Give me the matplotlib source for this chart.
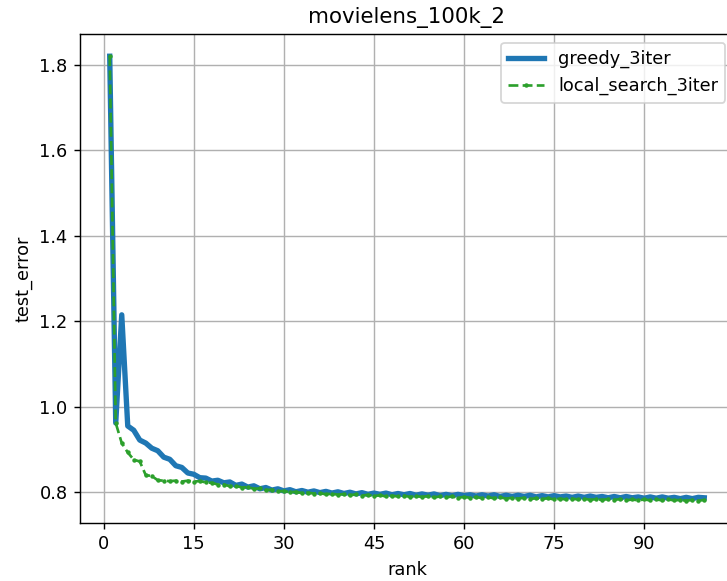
import numpy as np
import matplotlib
matplotlib.use("Agg")
import matplotlib.pyplot as plt

ranks = list(range(1, 101))

greedy_3iter = [
    1.820, 0.962, 1.215, 0.955, 0.945, 0.922, 0.915, 0.903, 0.897, 0.882,
    0.877, 0.862, 0.858, 0.845, 0.842, 0.834, 0.833, 0.826, 0.828, 0.822,
    0.824, 0.816, 0.819, 0.812, 0.815, 0.808, 0.811, 0.805, 0.808, 0.803,
    0.806, 0.801, 0.804, 0.800, 0.803, 0.799, 0.802, 0.798, 0.801, 0.797,
    0.800, 0.796, 0.799, 0.795, 0.798, 0.795, 0.798, 0.794, 0.797, 0.794,
    0.797, 0.793, 0.796, 0.793, 0.796, 0.792, 0.795, 0.792, 0.795, 0.792,
    0.794, 0.791, 0.794, 0.791, 0.794, 0.790, 0.793, 0.790, 0.793, 0.790,
    0.793, 0.789, 0.792, 0.789, 0.792, 0.789, 0.791, 0.788, 0.791, 0.788,
    0.791, 0.788, 0.790, 0.787, 0.790, 0.787, 0.790, 0.787, 0.789, 0.786,
    0.789, 0.786, 0.789, 0.786, 0.788, 0.785, 0.788, 0.785, 0.788, 0.787,
]

local_search_3iter = [
    1.820, 0.962, 0.915, 0.893, 0.876, 0.872, 0.840, 0.838, 0.828, 0.827,
    0.826, 0.827, 0.825, 0.827, 0.825, 0.826, 0.823, 0.822, 0.818, 0.818,
    0.814, 0.815, 0.811, 0.812, 0.808, 0.809, 0.805, 0.806, 0.802, 0.803,
    0.800, 0.801, 0.798, 0.799, 0.797, 0.798, 0.795, 0.797, 0.794, 0.796,
    0.793, 0.795, 0.792, 0.794, 0.791, 0.793, 0.790, 0.792, 0.790, 0.792,
    0.789, 0.791, 0.789, 0.791, 0.788, 0.790, 0.788, 0.790, 0.787, 0.789,
    0.787, 0.789, 0.786, 0.788, 0.786, 0.788, 0.785, 0.787, 0.785, 0.787,
    0.784, 0.786, 0.784, 0.786, 0.783, 0.785, 0.783, 0.785, 0.783, 0.785,
    0.782, 0.784, 0.782, 0.784, 0.782, 0.784, 0.781, 0.783, 0.781, 0.783,
    0.781, 0.783, 0.781, 0.783, 0.781, 0.782, 0.780, 0.782, 0.780, 0.782,
]

DPI = 128
fig = plt.figure(figsize=(727 / DPI, 581 / DPI), dpi=DPI)
# axes run a little past the right edge, like the cropped original
ax = fig.add_axes([80 / 727, 58 / 581, 654 / 727, 489 / 581])

ax.plot(ranks, greedy_3iter, color="tab:blue", linewidth=3, label="greedy_3iter")
ax.plot(ranks, local_search_3iter, color="tab:green", linestyle="--", marker=".",
        markersize=3, linewidth=1.5, label="local_search_3iter")

ax.set_xticks(np.arange(0, 91, 15))
ax.set_title("movielens_100k_2")
ax.set_xlabel("rank")
ax.set_ylabel("test_error")
ax.grid(True)
ax.legend(loc="upper right")

fig.savefig("out.png", dpi=DPI)
